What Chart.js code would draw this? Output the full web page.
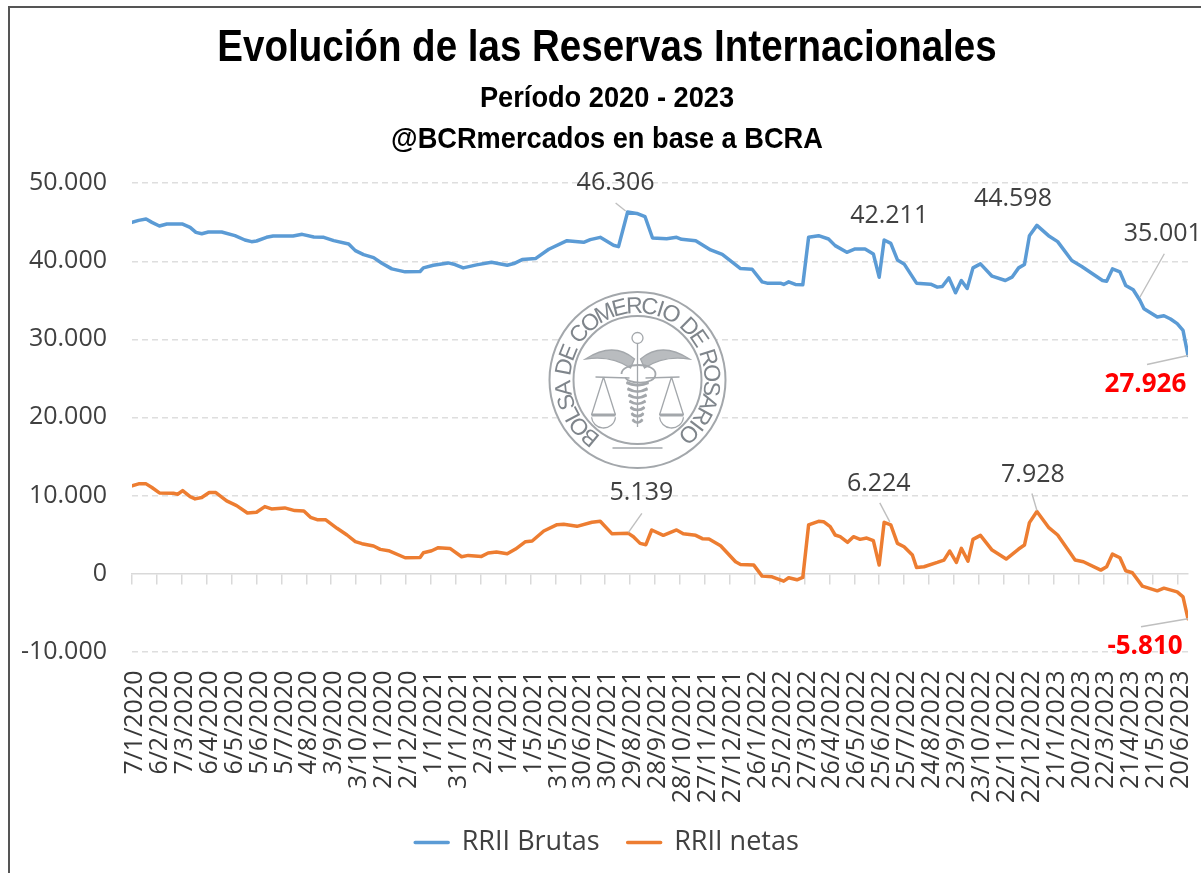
<!DOCTYPE html>
<html><head><meta charset="utf-8">
<style>html,body{margin:0;padding:0;background:#fff}canvas{display:block;filter:blur(.45px)}</style>
<script src="https://cdn.jsdelivr.net/npm/chart.js@4"></script></head>
<body><div style="width:1201px;height:873px"><canvas id="c" width="1201" height="873"></canvas></div>
<script>
const titleText='Evolución de las Reservas Internacionales';
const subtitleLines=['Período 2020 - 2023','@BCRmercados en base a BCRA'];
const tickLabels=['7/1/2020','6/2/2020','7/3/2020','6/4/2020','6/5/2020','5/6/2020','5/7/2020','4/8/2020','3/9/2020','3/10/2020','2/11/2020','2/12/2020','1/1/2021','31/1/2021','2/3/2021','1/4/2021','1/5/2021','31/5/2021','30/6/2021','30/7/2021','29/8/2021','28/9/2021','28/10/2021','27/11/2021','27/12/2021','26/1/2022','25/2/2022','27/3/2022','26/4/2022','26/5/2022','25/6/2022','25/7/2022','24/8/2022','23/9/2022','23/10/2022','22/11/2022','22/12/2022','21/1/2023','20/2/2023','22/3/2023','21/4/2023','21/5/2023','20/6/2023'];
const brutasDays=[0,8,17,24,33,42,61,70,77,84,92,108,124,136,144,150,162,170,194,205,219,231,243,261,269,279,291,301,313,329,347,351,363,381,389,399,415,433,452,460,470,486,502,524,544,552,564,580,586,597,608,618,627,644,656,662,679,697,711,733,747,759,765,781,785,791,799,808,815,827,839,847,861,871,883,893,900,906,914,922,930,945,962,970,976,984,992,999,1006,1013,1022,1036,1052,1060,1068,1075,1081,1090,1104,1115,1132,1144,1169,1174,1181,1190,1197,1206,1214,1219,1235,1243,1251,1259,1266,1272];
const brutas=[44979,45234,45405,44979,44511,44766,44766,44341,43703,43532,43745,43745,43277,42724,42511,42596,43064,43235,43235,43447,43107,43064,42639,42213,41362,40852,40469,39745,39022,38639,38682,39150,39490,39788,39575,39150,39533,39873,39490,39703,40213,40341,41532,42639,42426,42767,43064,42043,41873,46306,46128,45703,42979,42894,43064,42809,42639,41447,40894,39065,38980,37363,37192,37192,37022,37363,37022,36980,43064,43277,42851,42001,41149,41575,41575,40937,37958,42724,42298,40171,39660,37192,37065,36683,36767,37873,35958,37533,36512,39150,39660,38086,37533,37958,39150,39575,43277,44598,43277,42511,40086,39320,37533,37448,39022,38639,36895,36341,35001,33916,32852,33022,32597,32001,31150,27926];
const netasDays=[0,8,17,24,33,50,55,61,70,76,84,93,101,114,126,139,150,160,168,184,196,207,215,223,233,247,259,269,277,291,299,309,329,347,351,361,369,383,397,405,421,429,439,452,462,474,482,496,512,520,536,554,564,578,598,604,612,619,626,640,656,664,679,687,695,709,727,733,749,759,771,785,791,801,808,815,827,833,841,847,853,862,869,877,885,893,900,906,914,922,930,940,945,954,970,978,985,993,999,1007,1013,1022,1036,1053,1068,1075,1081,1090,1104,1115,1136,1146,1167,1174,1181,1190,1197,1205,1217,1235,1243,1259,1266,1272];
const netas=[11221,11478,11478,11007,10322,10279,10151,10622,9851,9551,9722,10365,10365,9294,8694,7752,7838,8566,8266,8395,8052,8009,7195,6896,6896,5782,4925,4069,3812,3512,3084,2912,2013,2056,2655,2912,3298,3212,2142,2313,2184,2613,2741,2527,3127,4069,4155,5439,6253,6296,6039,6553,6681,5097,5139,4711,3855,3683,5568,4883,5568,5097,4883,4454,4411,3555,1499,1156,1071,-343,-428,-985,-557,-814,-514,6210,6681,6639,5996,4925,4711,3983,4711,4369,4540,4197,1071,6553,6224,3855,3426,2356,771,857,1413,1713,2870,1413,3212,1585,4369,4883,2998,1842,3127,3641,6510,7928,5911,4925,1713,1499,428,857,2484,2013,343,86,-1628,-2227,-1885,-2356,-2998,-5810];
const calloutTexts=['46.306','42.211','44.598','35.001','27.926','5.139','6.224','7.928','-5.810'];
const calloutSeries=[0,0,0,0,0,1,1,1,1];
const calloutDays=[597,906,1090,1214,1272,598,914,1090,1272];
const calloutColors=['#404040','#404040','#404040','#404040','#ff0000','#404040','#404040','#404040','#ff0000'];
const calloutOffsets=[[-12,-29],[5,-24],[-24,-26],[23,-66],[-42.6,29],[13,-40],[-12,-41],[-4,-37],[-43,28]];
const calloutLeaders=[[-12,-9,-2,-1],null,null,[0,-3,24.5,-46.5],[0,0,-41,9],[0,-1,13.4,-20],[-1,-3,-11,-22],[0,-1,-5,-18],[0,0,-47,8]];
const sealText='BOLSA DE COMERCIO DE ROSARIO';
const fmt=v=>String(v).replace(/\B(?=(\d{3})+(?!\d))/g,'.');
const frame={id:'frame',beforeDraw(c){const x=c.ctx;x.save();x.strokeStyle='#555';x.lineWidth=2;x.beginPath();x.moveTo(9,873);x.lineTo(9,7);x.lineTo(1201,7);x.stroke();x.restore();}};
// narrows the bold title blocks horizontally (no condensed family is installed);
// widens the label clip boxes of the axes so that long tick labels are not cut
const layoutTweaks={id:'layoutTweaks',afterLayout(c){
 c.boxes.filter(b=>b.options&&b.options.text&&!b.$narrow).forEach(b=>{
  const orig=b.draw.bind(b);b.$narrow=true;
  b.draw=function(a){const x=b.ctx,cx=607,k=Array.isArray(b.options.text)?0.907:0.856;x.save();x.translate(cx,0);x.scale(k,1);x.translate(-cx,0);orig(a);x.restore();};
 });
 c.scales.x.bottom=c.height;c.scales.y.left=0;}};
const seal={id:'seal',afterDatasetsDraw(c){const x=c.ctx,cx=637.5,cy=380;x.save();x.translate(cx,cy);
 x.fillStyle='#fff';x.beginPath();x.arc(0,0,89,0,7);x.fill();
 x.strokeStyle='#a3a7ab';x.fillStyle='#7f858b';x.lineWidth=2;
 for(const r of [88,64]){x.beginPath();x.arc(0,0,r,0,7);x.stroke();}
 x.font='23px "Liberation Sans"';x.textAlign='center';x.textBaseline='alphabetic';
 const widths=[...sealText].map(ch=>x.measureText(ch).width+1.5);
 const total=widths.reduce((p,q)=>p+q,0);const a0=-146,a1=143;let acc=0;
 [...sealText].forEach((ch,i)=>{const a=(a0+(a1-a0)*(acc+widths[i]/2)/total)*Math.PI/180;acc+=widths[i];x.save();x.rotate(a);x.translate(0,-67);x.fillText(ch,0,0);x.restore();});
 x.lineWidth=1.3;
 x.beginPath();x.arc(0,-42,5.5,0,7);x.stroke();
 x.beginPath();x.moveTo(0,-36);x.lineTo(0,47);x.stroke();
 for(const s of [-1,1]){
  x.beginPath();x.moveTo(s*3,-21);x.quadraticCurveTo(s*24,-39,s*52,-21);x.quadraticCurveTo(s*26,-25,s*7,-12);x.closePath();x.globalAlpha=.55;x.fill();x.globalAlpha=1;x.stroke();
  x.beginPath();x.moveTo(s*8,-2);x.lineTo(s*42,-3);x.stroke();
  x.beginPath();x.moveTo(s*34,-3);x.lineTo(s*22,35);x.moveTo(s*34,-3);x.lineTo(s*46,35);x.stroke();
  x.lineWidth=3;x.beginPath();x.moveTo(s*22,35);x.lineTo(s*46,35);x.stroke();x.lineWidth=1.3;
  x.beginPath();x.arc(s*34,36,12,0.1,Math.PI-0.1);x.stroke();
 }
 x.lineWidth=1.8;x.beginPath();x.moveTo(-16,-6);x.bezierCurveTo(-16,-18,18,-18,18,-6);x.bezierCurveTo(18,6,-12,4,-12,-3);x.stroke();
 x.lineWidth=2.4;
 for(let k=0;k<7;k++){const y=2+k*6.2,w=11-k;x.beginPath();x.moveTo(-w,y);x.quadraticCurveTo(0,y+6,w,y+1);x.moveTo(w,y);x.quadraticCurveTo(0,y+6,-w,y+1);x.stroke();}
 x.lineWidth=1.5;x.beginPath();x.moveTo(-25,68);x.lineTo(25,68);x.stroke();
 x.restore();}};
const callouts={id:'callouts',afterDatasetsDraw(c){const x=c.ctx,sx=c.scales.x,sy=c.scales.y;x.save();
 x.textAlign='center';x.textBaseline='middle';
 calloutTexts.forEach((t,i)=>{
  const days=calloutSeries[i]===0?brutasDays:netasDays,vals=calloutSeries[i]===0?brutas:netas;
  const px=sx.getPixelForValue(calloutDays[i]),py=sy.getPixelForValue(vals[days.indexOf(calloutDays[i])]);
  const l=calloutLeaders[i];
  if(l){x.strokeStyle='#bfbfbf';x.lineWidth=1.4;x.beginPath();x.moveTo(px+l[0],py+l[1]);x.lineTo(px+l[2],py+l[3]);x.stroke();}
  x.fillStyle=calloutColors[i];
  x.font=(calloutColors[i]==='#ff0000'?'bold 26px':'25px')+' "Open Sans"';
  x.fillText(t,px+calloutOffsets[i][0],py+calloutOffsets[i][1]);
 });x.restore();}};
new Chart(document.getElementById('c'),{type:'line',
 data:{datasets:[
  {label:'RRII Brutas',data:brutasDays.map((d,i)=>({x:d,y:brutas[i]})),borderColor:'#5B9BD5',backgroundColor:'#5B9BD5',borderWidth:3.5,pointRadius:0,tension:0,borderJoinStyle:'round',borderCapStyle:'round'},
  {label:'RRII netas',data:netasDays.map((d,i)=>({x:d,y:netas[i]})),borderColor:'#ED7D31',backgroundColor:'#ED7D31',borderWidth:3.5,pointRadius:0,tension:0,borderJoinStyle:'round',borderCapStyle:'round'}]},
 options:{responsive:false,animation:false,parsing:false,
  layout:{padding:{left:26,right:13,top:22,bottom:7}},
  plugins:{tooltip:{enabled:false},
   title:{display:true,text:titleText,color:'#000',font:{family:'"Liberation Sans"',size:45,weight:'bold'},padding:{top:0,bottom:2}},
   subtitle:{display:true,text:subtitleLines,color:'#000',font:{family:'"Liberation Sans"',size:30,weight:'bold',lineHeight:1.37},padding:{top:0,bottom:23}},
   legend:{position:'bottom',labels:{boxWidth:33,boxHeight:0,padding:28,color:'#404040',font:{family:'"Open Sans"',size:27}}}},
  scales:{
   x:{type:'linear',min:0,max:1272,position:'bottom',border:{display:false},grid:{display:false},
      afterBuildTicks(s){s.ticks=tickLabels.map((_,i)=>({value:i*30}));},
      afterFit(s){s.height=149.5;s.paddingLeft=0;s.paddingRight=0;},
      ticks:{autoSkip:false,minRotation:90,maxRotation:90,padding:11,labelOffset:3,color:'#383838',includeBounds:false,font:{family:'"Open Sans"',size:25},callback:(v)=>tickLabels[Math.round(v/30)]}},
   x2:{type:'linear',axis:'x',min:0,max:1272,position:{y:0},border:{display:true,color:'#d9d9d9',width:1.5},
      grid:{drawOnChartArea:false,drawTicks:true,tickLength:10,color:'#d9d9d9',lineWidth:1.5},
      afterBuildTicks(s){s.ticks=tickLabels.map((_,i)=>({value:i*30}));},
      afterFit(s){s.paddingLeft=0;s.paddingRight=0;},
      ticks:{display:false}},
   y:{min:-10000,max:50000,border:{display:false,dash:[6,4]},afterFit(s){s.width=106;},
      grid:{drawTicks:false,color:(c)=>c.tick&&c.tick.value===0?'rgba(0,0,0,0)':'#dedede',lineWidth:1.5},
      ticks:{stepSize:10000,padding:25,color:'#404040',font:{family:'"Open Sans"',size:25},callback:fmt}}
  }},
 plugins:[frame,layoutTweaks,seal,callouts]});
</script></body></html>
